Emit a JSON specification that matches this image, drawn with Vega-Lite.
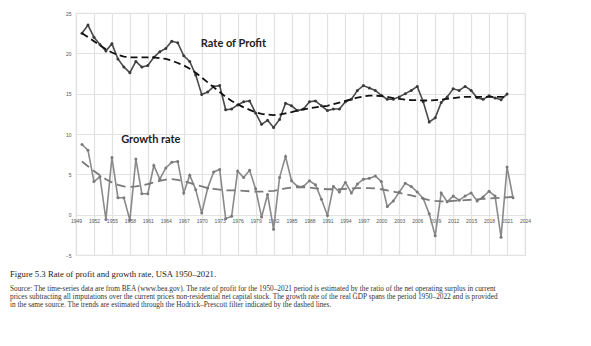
{
  "$schema": "https://vega.github.io/schema/vega-lite/v6.json",
  "width": 449,
  "height": 242,
  "autosize": {"type": "none"},
  "padding": {"left": 76, "top": 13, "right": 66, "bottom": 91},
  "background": "white",
  "config": {
    "view": {"stroke": "#e2e2e2", "strokeWidth": 1.2}
  },
  "title": {
    "text": "Figure 5.3  Rate of profit and growth rate, USA 1950–2021.",
    "subtitle": [
      "Source: The time-series data are from BEA (www.bea.gov). The rate of profit for the 1950–2021 period is estimated by the ratio of the net operating surplus in current",
      "prices subtracting all imputations over the current prices non-residential net capital stock. The growth rate of the real GDP spans the period 1950–2022 and is provided",
      "in the same source. The trends are estimated through the Hodrick–Prescott filter indicated by the dashed lines."
    ],
    "orient": "bottom", "anchor": "start", "frame": "group", "dx": -66, "offset": 12,
    "font": "Liberation Serif", "fontSize": 8.7, "fontWeight": "normal", "color": "#222",
    "subtitleFont": "Liberation Serif", "subtitleFontSize": 7.3, "subtitleColor": "#333",
    "subtitleLineHeight": 8.3, "subtitlePadding": 6
  },
  "data": {"values": [
    {"year":1950,"profit":22.5,"growth":8.7,"profitTrend":22.5,"growthTrend":6.6},
    {"year":1951,"profit":23.5,"growth":8.0,"profitTrend":22.0,"growthTrend":6.0},
    {"year":1952,"profit":22.0,"growth":4.1,"profitTrend":21.5,"growthTrend":5.4},
    {"year":1953,"profit":21.1,"growth":4.7,"profitTrend":21.0,"growthTrend":4.9},
    {"year":1954,"profit":20.3,"growth":-0.6,"profitTrend":20.5,"growthTrend":4.4},
    {"year":1955,"profit":21.2,"growth":7.1,"profitTrend":20.1,"growthTrend":4.0},
    {"year":1956,"profit":19.3,"growth":2.1,"profitTrend":19.8,"growthTrend":3.7},
    {"year":1957,"profit":18.3,"growth":2.1,"profitTrend":19.6,"growthTrend":3.5},
    {"year":1958,"profit":17.6,"growth":-0.7,"profitTrend":19.5,"growthTrend":3.45},
    {"year":1959,"profit":19.0,"growth":6.9,"profitTrend":19.5,"growthTrend":3.5},
    {"year":1960,"profit":18.3,"growth":2.6,"profitTrend":19.5,"growthTrend":3.6},
    {"year":1961,"profit":18.5,"growth":2.6,"profitTrend":19.5,"growthTrend":3.8},
    {"year":1962,"profit":19.5,"growth":6.1,"profitTrend":19.5,"growthTrend":4.0},
    {"year":1963,"profit":20.2,"growth":4.4,"profitTrend":19.4,"growthTrend":4.2},
    {"year":1964,"profit":20.6,"growth":5.8,"profitTrend":19.3,"growthTrend":4.35},
    {"year":1965,"profit":21.5,"growth":6.5,"profitTrend":19.1,"growthTrend":4.4},
    {"year":1966,"profit":21.3,"growth":6.6,"profitTrend":18.8,"growthTrend":4.3},
    {"year":1967,"profit":19.7,"growth":2.7,"profitTrend":18.5,"growthTrend":4.15},
    {"year":1968,"profit":19.0,"growth":4.9,"profitTrend":18.1,"growthTrend":3.95},
    {"year":1969,"profit":17.3,"growth":3.1,"profitTrend":17.6,"growthTrend":3.7},
    {"year":1970,"profit":14.9,"growth":0.2,"profitTrend":17.0,"growthTrend":3.5},
    {"year":1971,"profit":15.2,"growth":3.3,"profitTrend":16.4,"growthTrend":3.3},
    {"year":1972,"profit":15.9,"growth":5.3,"profitTrend":15.8,"growthTrend":3.2},
    {"year":1973,"profit":16.0,"growth":5.6,"profitTrend":15.2,"growthTrend":3.1},
    {"year":1974,"profit":13.0,"growth":-0.5,"profitTrend":14.6,"growthTrend":3.0},
    {"year":1975,"profit":13.1,"growth":-0.2,"profitTrend":14.1,"growthTrend":3.0},
    {"year":1976,"profit":13.6,"growth":5.4,"profitTrend":13.7,"growthTrend":3.0},
    {"year":1977,"profit":14.0,"growth":4.6,"profitTrend":13.3,"growthTrend":2.95},
    {"year":1978,"profit":14.1,"growth":5.5,"profitTrend":13.0,"growthTrend":2.9},
    {"year":1979,"profit":12.6,"growth":3.2,"profitTrend":12.7,"growthTrend":2.85},
    {"year":1980,"profit":11.2,"growth":-0.3,"profitTrend":12.5,"growthTrend":2.85},
    {"year":1981,"profit":11.7,"growth":2.5,"profitTrend":12.4,"growthTrend":2.9},
    {"year":1982,"profit":10.8,"growth":-1.8,"profitTrend":12.35,"growthTrend":2.95},
    {"year":1983,"profit":11.8,"growth":4.6,"profitTrend":12.4,"growthTrend":3.1},
    {"year":1984,"profit":13.8,"growth":7.2,"profitTrend":12.55,"growthTrend":3.25},
    {"year":1985,"profit":13.5,"growth":4.2,"profitTrend":12.7,"growthTrend":3.35},
    {"year":1986,"profit":12.9,"growth":3.5,"profitTrend":12.9,"growthTrend":3.4},
    {"year":1987,"profit":13.1,"growth":3.5,"profitTrend":13.05,"growthTrend":3.4},
    {"year":1988,"profit":14.0,"growth":4.2,"profitTrend":13.2,"growthTrend":3.35},
    {"year":1989,"profit":14.1,"growth":3.7,"profitTrend":13.3,"growthTrend":3.25},
    {"year":1990,"profit":13.5,"growth":1.9,"profitTrend":13.4,"growthTrend":3.2},
    {"year":1991,"profit":12.9,"growth":-0.1,"profitTrend":13.5,"growthTrend":3.15},
    {"year":1992,"profit":13.1,"growth":3.5,"profitTrend":13.7,"growthTrend":3.15},
    {"year":1993,"profit":13.1,"growth":2.8,"profitTrend":13.9,"growthTrend":3.15},
    {"year":1994,"profit":14.0,"growth":4.0,"profitTrend":14.1,"growthTrend":3.2},
    {"year":1995,"profit":14.3,"growth":2.7,"profitTrend":14.3,"growthTrend":3.25},
    {"year":1996,"profit":15.4,"growth":3.8,"profitTrend":14.5,"growthTrend":3.3},
    {"year":1997,"profit":16.0,"growth":4.4,"profitTrend":14.65,"growthTrend":3.3},
    {"year":1998,"profit":15.7,"growth":4.5,"profitTrend":14.75,"growthTrend":3.3},
    {"year":1999,"profit":15.4,"growth":4.8,"profitTrend":14.75,"growthTrend":3.25},
    {"year":2000,"profit":14.8,"growth":4.1,"profitTrend":14.7,"growthTrend":3.15},
    {"year":2001,"profit":14.3,"growth":1.0,"profitTrend":14.6,"growthTrend":3.0},
    {"year":2002,"profit":14.3,"growth":1.7,"profitTrend":14.45,"growthTrend":2.85},
    {"year":2003,"profit":14.6,"growth":2.8,"profitTrend":14.35,"growthTrend":2.7},
    {"year":2004,"profit":15.0,"growth":3.9,"profitTrend":14.25,"growthTrend":2.55},
    {"year":2005,"profit":15.4,"growth":3.5,"profitTrend":14.2,"growthTrend":2.4},
    {"year":2006,"profit":15.9,"growth":2.8,"profitTrend":14.2,"growthTrend":2.2},
    {"year":2007,"profit":14.0,"growth":2.0,"profitTrend":14.15,"growthTrend":2.0},
    {"year":2008,"profit":11.5,"growth":0.1,"profitTrend":14.15,"growthTrend":1.8},
    {"year":2009,"profit":12.0,"growth":-2.6,"profitTrend":14.2,"growthTrend":1.7},
    {"year":2010,"profit":13.9,"growth":2.7,"profitTrend":14.25,"growthTrend":1.65},
    {"year":2011,"profit":14.6,"growth":1.6,"profitTrend":14.35,"growthTrend":1.65},
    {"year":2012,"profit":15.6,"growth":2.3,"profitTrend":14.45,"growthTrend":1.7},
    {"year":2013,"profit":15.4,"growth":1.8,"profitTrend":14.55,"growthTrend":1.75},
    {"year":2014,"profit":15.9,"growth":2.3,"profitTrend":14.6,"growthTrend":1.8},
    {"year":2015,"profit":15.4,"growth":2.7,"profitTrend":14.6,"growthTrend":1.85},
    {"year":2016,"profit":14.5,"growth":1.7,"profitTrend":14.6,"growthTrend":1.9},
    {"year":2017,"profit":14.3,"growth":2.2,"profitTrend":14.6,"growthTrend":1.95},
    {"year":2018,"profit":14.75,"growth":2.9,"profitTrend":14.6,"growthTrend":2.0},
    {"year":2019,"profit":14.45,"growth":2.3,"profitTrend":14.6,"growthTrend":2.05},
    {"year":2020,"profit":14.25,"growth":-2.8,"profitTrend":14.6,"growthTrend":2.1},
    {"year":2021,"profit":14.95,"growth":5.9,"profitTrend":14.6,"growthTrend":2.15},
    {"year":2022,"profit":null,"growth":2.1,"profitTrend":null,"growthTrend":2.2}
  ]},
  "encoding": {
    "x": {"field": "year", "type": "quantitative", "title": null,
          "scale": {"domain": [1949, 2024], "nice": false, "zero": false},
          "axis": {
            "values": [1949,1952,1955,1958,1961,1964,1967,1970,1973,1976,1979,1982,1985,1988,1991,1994,1997,2000,2003,2006,2009,2012,2015,2018,2021,2024],
            "format": "d", "labelFontSize": 5, "labelFont": "Liberation Sans", "labelColor": "#555",
            "tickSize": 0, "labelPadding": -37, "domain": false, "grid": true, "gridColor": "#e2e2e2", "gridWidth": 1.2,
            "labelFlush": false, "labelOverlap": false
          }}
  },
  "layer": [
    {
      "mark": {"type": "line", "color": "#8a8a8a", "strokeWidth": 1.6,
               "point": {"filled": true, "size": 9, "color": "#7a7a7a"}},
      "encoding": {"y": {"field": "growth", "type": "quantitative", "title": null,
                         "scale": {"domain": [-5, 25], "nice": false, "zero": false},
                         "axis": {
                           "values": [-5,-2.5,0,2.5,5,7.5,10,12.5,15,17.5,20,22.5,25],
                           "format": "~g", "labelFontSize": 5, "labelFont": "Liberation Sans", "labelColor": "#555",
                           "tickSize": 0, "labelPadding": 5, "domain": false, "grid": true, "gridColor": "#e2e2e2", "gridWidth": 1.2,
                           "labelOverlap": false
                         }}}
    },
    {
      "mark": {"type": "line", "color": "#7a7a7a", "strokeWidth": 1.8, "strokeDash": [9, 5]},
      "encoding": {"y": {"field": "growthTrend", "type": "quantitative", "title": null}}
    },
    {
      "mark": {"type": "line", "color": "#4a4a4a", "strokeWidth": 1.6,
               "point": {"filled": true, "size": 9, "color": "#3a3a3a"}},
      "encoding": {"y": {"field": "profit", "type": "quantitative", "title": null}}
    },
    {
      "mark": {"type": "line", "color": "#111111", "strokeWidth": 1.8, "strokeDash": [7, 4]},
      "encoding": {"y": {"field": "profitTrend", "type": "quantitative", "title": null}}
    },
    {
      "data": {"values": [
        {"year": 1975.3, "v": 21.2, "label": "Rate of Profit"},
        {"year": 1961.5, "v": 9.25, "label": "Growth rate"}
      ]},
      "mark": {"type": "text", "font": "Lato", "fontWeight": "bold", "fontSize": 11, "color": "#222", "baseline": "middle", "align": "center"},
      "encoding": {
        "y": {"field": "v", "type": "quantitative", "title": null},
        "text": {"field": "label"}
      }
    }
  ]
}
